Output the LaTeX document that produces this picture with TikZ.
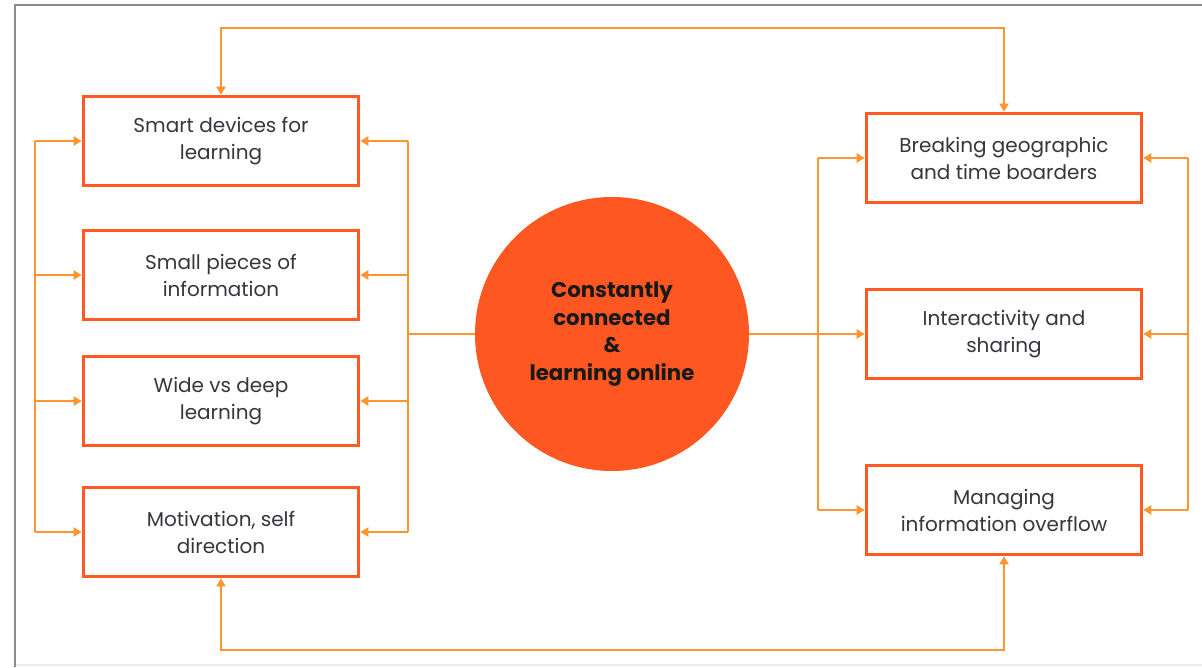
\documentclass[tikz,border=0pt]{standalone}
\usepackage{fontspec}
\setmainfont{Poppins}
\usetikzlibrary{arrows.meta}
\definecolor{boxred}{HTML}{FF5A24}
\definecolor{hubfill}{HTML}{FF5722}
\definecolor{linkorange}{HTML}{FF9530}
\definecolor{textgray}{HTML}{36363D}
\definecolor{framegray}{HTML}{8C8C8C}
\begin{document}
\begin{tikzpicture}[x=1pt,y=-1pt,
  topic/.style={draw=boxred,line width=3.6pt,fill=white,minimum width=275pt,
    minimum height=89pt,align=center,text=textgray,inner sep=0pt,
    font=\fontsize{20}{27}\selectfont},
  hub/.style={circle,fill=hubfill,minimum size=274pt,inner sep=0pt,align=center,
    text=black!90,font=\bfseries\fontsize{21.3}{27.5}\selectfont},
  link/.style={draw=linkorange,line width=2.9pt},
  tip/.style={-{Triangle[length=8pt,width=9pt]}},
  twotip/.style={{Triangle[length=8pt,width=9pt]}-{Triangle[length=8pt,width=9pt]}}
]
% page and frame
\fill[white] (0,0) rectangle (1202,667);
\useasboundingbox (0,0) rectangle (1202,667);
\draw[gray!15,line width=1.5pt] (15,665) -- (1202,665);
\draw[framegray,line width=2pt] (1202,5) -- (15,5) -- (15,667);

% central hub
\node[hub] (hub) at (612,334) {Constantly\\connected\\\&\\learning online};

% left column
\node[topic] (s1) at (221,141) {Smart devices for\\learning};
\node[topic] (s2) at (221,275) {Small pieces of\\information};
\node[topic] (s3) at (221,401) {Wide vs deep\\learning};
\node[topic] (s4) at (221,532) {Motivation, self\\direction};

% right column
\node[topic] (r1) at (1004,158) {Breaking geographic\\and time boarders};
\node[topic] (r2) at (1004,334) {Interactivity and\\sharing};
\node[topic] (r3) at (1004,510) {Managing\\information overflow};

% bus positions
\coordinate (lout) at (35,0);
\coordinate (lin) at (408,0);
\coordinate (rin) at (818,0);
\coordinate (rout) at (1188,0);
\coordinate (topy) at (0,28);
\coordinate (boty) at (0,650);

% left outer bus
\draw[link] (s1.west -| lout) -- (s4.west -| lout);
\foreach \n in {s1,s2,s3,s4}
  \draw[link,tip] (\n.west -| lout) -- (\n.west);

% left inner bus fed by the hub
\draw[link] (s1.east -| lin) -- (s4.east -| lin);
\draw[link] (hub.west) -- (hub.west -| lin);
\foreach \n in {s1,s2,s3,s4}
  \draw[link,tip] (\n.east -| lin) -- (\n.east);

% right inner bus fed by the hub
\draw[link] (r1.west -| rin) -- (r3.west -| rin);
\draw[link,tip] (hub.east) -- (r2.west);
\foreach \n in {r1,r3}
  \draw[link,tip] (\n.west -| rin) -- (\n.west);

% right outer bus
\draw[link] (r1.east -| rout) -- (r3.east -| rout);
\foreach \n in {r1,r2,r3}
  \draw[link,tip] (\n.east -| rout) -- (\n.east);

% top and bottom loops
\draw[link,twotip] (s1.north) -- (s1.north |- topy) -| (r1.north);
\draw[link,twotip] (s4.south) -- (s4.south |- boty) -| (r3.south);
\end{tikzpicture}
\end{document}
